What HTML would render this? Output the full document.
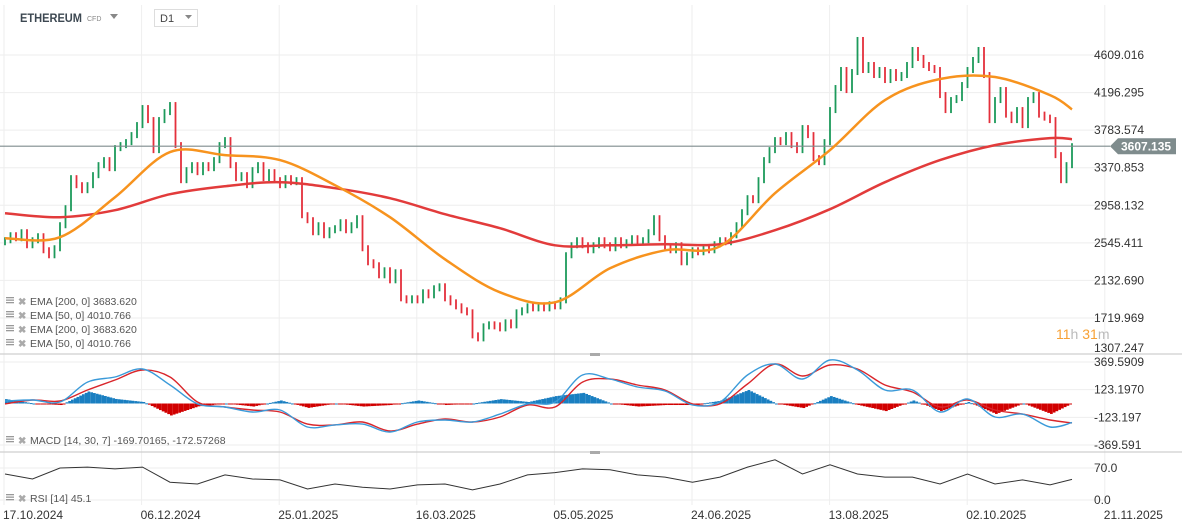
<!DOCTYPE html>
<html><head><meta charset="utf-8">
<style>
html,body{margin:0;padding:0;background:#fff;}
svg{display:block;font-family:"Liberation Sans",sans-serif;}
</style></head>
<body>
<svg id="chart" width="1182" height="531" viewBox="0 0 1182 531" xmlns="http://www.w3.org/2000/svg">
  <rect x="0" y="0" width="1182" height="531" fill="#fff"/>
  <g id="grid"></g>
  <g>
    <text x="20" y="22" font-size="12" font-weight="bold" fill="#3d4852" textLength="62" lengthAdjust="spacingAndGlyphs">ETHEREUM</text>
    <text x="87" y="21" font-size="7" fill="#888">CFD</text>
    <path d="M110 14 L118 14 L114 19 Z" fill="#888"/>
    <rect x="154.5" y="9.5" width="43" height="17" fill="#fff" stroke="#ddd"/>
    <text x="160" y="22" font-size="11" fill="#444">D1</text>
    <path d="M185 15 L192 15 L188.5 19 Z" fill="#888"/>
  </g>
  <g id="price"></g>
  <g id="macd"></g>
  <g id="rsi"></g>
  <g id="axes"></g>
</svg>
<script>
const closes = [2574,2629,2596,2662,2519,2574,2618,2464,2409,2486,
2739,2926,3256,3179,3124,3179,3289,3399,3454,3366,
3586,3619,3652,3729,3839,4026,3894,3564,3894,3982,
4059,3619,3234,3344,3399,3322,3399,3366,3454,3619,
3674,3399,3256,3289,3179,3344,3399,3256,3322,3234,
3179,3256,3212,3234,2849,2794,2662,2739,2629,2684,
2706,2772,2684,2739,2816,2486,2332,2299,2189,2244,
2134,2222,1936,1914,1936,1914,2002,1969,2046,2068,
1936,1892,1848,1804,1782,1529,1496,1628,1650,1639,
1606,1672,1639,1782,1804,1848,1826,1859,1826,1870,
1848,1914,2409,2519,2574,2519,2464,2519,2574,2519,
2486,2574,2519,2552,2596,2552,2574,2662,2816,2596,
2486,2464,2519,2332,2409,2464,2442,2486,2464,2530,
2574,2552,2629,2739,2882,3036,3014,3234,3454,3564,
3674,3652,3729,3619,3564,3806,3729,3476,3432,3652,
4004,4246,4444,4224,4422,4774,4444,4499,4389,4444,
4334,4422,4356,4389,4499,4664,4576,4499,4466,4444,
4169,4004,4114,4136,4279,4444,4554,4664,4389,3894,
4114,4224,3954,3894,4004,3839,4114,4169,3954,3921,
3894,3509,3234,3399,3607];
const emaIdx = [0,10,20,30,40,50,60,70,80,90,100,110,120,130,140,150,160,170,180,190,194];
const ema50 = [2596,2607,3047,3542,3509,3454,3179,2827,2365,2002,1892,2266,2464,2508,3091,3564,4114,4345,4367,4169,4011];
const ema200 = [2871,2827,2904,3080,3168,3212,3146,3036,2860,2706,2519,2519,2530,2530,2684,2915,3212,3454,3619,3696,3684];
const oscIdx = [0,5,10,15,20,25,30,35,40,45,50,55,60,65,70,75,80,85,90,95,100,105,110,115,120,125,130,135,140,145,150,155,160,165,170,175,180,185,190,194];
const macdLine = [22,31,13,191,236,307,165,-4,-31,-76,-58,-209,-191,-183,-254,-165,-147,-165,-94,-4,13,254,218,147,111,-13,13,254,352,218,387,298,120,120,-76,40,-120,-94,-209,-170];
const signalLine = [-4,31,22,120,209,298,236,13,-31,-58,-76,-183,-191,-165,-245,-183,-138,-165,-120,-13,-31,191,218,165,120,-4,-4,174,352,245,343,307,165,102,-31,31,-58,-94,-147,-173];
const rsiValues = [57,46,70,72,68,72,39,35,55,46,44,24,35,28,24,33,35,22,35,55,60,68,66,55,50,39,50,72,88,57,77,57,50,50,35,57,35,44,33,45];
const priceTicks = [4609.016,4196.295,3783.574,3370.853,2958.132,2545.411,2132.690,1719.969,1307.247];
const macdTicks = ["369.5909","123.1970","-123.197","-369.591"];
const macdTickVals = [369.5909,123.197,-123.197,-369.591];
const rsiTicks = [70,0];
const dateLabels = ["17.10.2024","06.12.2024","25.01.2025","16.03.2025","05.05.2025","24.06.2025","13.08.2025","02.10.2025","21.11.2025"];
const lastPrice = 3607.135;

const NS = "http://www.w3.org/2000/svg";
function mk(tag, attrs, parent){const e=document.createElementNS(NS,tag);for(const k in attrs)e.setAttribute(k,attrs[k]);parent.appendChild(e);return e;}
function xI(i){return 5+5.5*i;}
function yP(v){return 55+(4609.016-v)/412.721*37.57;}
function yM(v){return 403.5-v*0.1123;}
function yR(v){return 500-v*0.457;}
function smooth(pts){let d="M"+pts[0][0].toFixed(1)+" "+pts[0][1].toFixed(1);
 for(let i=0;i<pts.length-1;i++){const p0=pts[Math.max(0,i-1)],p1=pts[i],p2=pts[i+1],p3=pts[Math.min(pts.length-1,i+2)];
  const c1x=p1[0]+(p2[0]-p0[0])/6,c1y=p1[1]+(p2[1]-p0[1])/6,c2x=p2[0]-(p3[0]-p1[0])/6,c2y=p2[1]-(p3[1]-p1[1])/6;
  d+=" C"+c1x.toFixed(1)+" "+c1y.toFixed(1)+" "+c2x.toFixed(1)+" "+c2y.toFixed(1)+" "+p2[0].toFixed(1)+" "+p2[1].toFixed(1);}
 return d;}
function poly(pts){return "M"+pts.map(p=>p[0].toFixed(1)+" "+p[1].toFixed(1)).join(" L");}

const grid=document.getElementById("grid");
const axes=document.getElementById("axes");
const price=document.getElementById("price");
const macd=document.getElementById("macd");
const rsi=document.getElementById("rsi");

dateLabels.forEach((d,k)=>{const x=4+137.6*k;
 const l=mk("line",{x1:x,x2:x,y1:5,y2:505,stroke:"#eeeeee","stroke-width":1},grid);
 
 
 const t=mk("text",{x:x-1,y:519,"font-size":12,fill:"#333"},axes);t.textContent=d;
 
 
});
priceTicks.forEach(v=>{const y=yP(v);
 if(y<352){const l=mk("line",{x1:0,x2:1105,y1:y,y2:y,stroke:"#eeeeee","stroke-width":1},grid);
 
 }
 const t=mk("text",{x:1094,y:Math.min(y,348)+4,"font-size":12,fill:"#333"},axes);t.textContent=v.toFixed(3);
 
 
});
macdTickVals.forEach((v,k)=>{const y=yM(v);
 const l=mk("line",{x1:0,x2:1105,y1:y,y2:y,stroke:"#eeeeee","stroke-width":1},grid);
 
 
 const t=mk("text",{x:1094,y:y+4,"font-size":12,fill:"#333"},axes);t.textContent=macdTicks[k];
 
 
});
rsiTicks.forEach(v=>{const y=yR(v);
 const l=mk("line",{x1:0,x2:1105,y1:y,y2:y,stroke:"#eeeeee","stroke-width":1},grid);
 
 
 const t=mk("text",{x:1094,y:y+4,"font-size":12,fill:"#333"},axes);t.textContent=v.toFixed(1);
 
 
});
[354,452].forEach(y=>{const l=mk("line",{x1:0,x2:1182,y1:y,y2:y,stroke:"#cfcfcf","stroke-width":1.2},axes);
 
 
 const h=mk("rect",{x:590,y:y-1,width:10,height:3,fill:"#aaa"},axes);
 
 
});

closes.forEach((c,i)=>{const o=i>0?closes[i-1]:c;
 const up=c>=o;const x=xI(i);
 const y1=yP(Math.max(o,c)),y2=yP(Math.min(o,c));
 const r=mk("rect",{x:x-0.9,y:y1-3,width:1.8,height:Math.max(2,y2-y1)+6,fill:up?"#1d9a5b":"#e4303c"},price);
 
 
});
const lpY=yP(lastPrice);
const lpl=mk("line",{x1:0,x2:1110,y1:lpY,y2:lpY,stroke:"#7f8c8d","stroke-width":1.2},price);


const e200=mk("path",{d:smooth(emaIdx.map((i,k)=>[xI(i),yP(ema200[k])])),fill:"none",stroke:"#e23b3b","stroke-width":2.5},price);


const e50=mk("path",{d:smooth(emaIdx.map((i,k)=>[xI(i),yP(ema50[k])])),fill:"none",stroke:"#f7931e","stroke-width":2.5},price);


const tag=mk("path",{d:`M1110 ${lpY} L1118 ${lpY-8} L1176 ${lpY-8} L1176 ${lpY+8} L1118 ${lpY+8} Z`,fill:"#7f8c8d"},axes);


const tagT=mk("text",{x:1121,y:lpY+4.5,"font-size":12,"font-weight":"bold",fill:"#fff"},axes);tagT.textContent=lastPrice.toFixed(3);



const zero=yM(0);
const histPts=oscIdx.map((i,k)=>[xI(i),(macdLine[k]-signalLine[k])*1.5]);
for(let k=0;k<histPts.length-1;k++){
 const a=histPts[k],b=histPts[k+1];
 for(let x=a[0];x<b[0];x+=2.75){const t=(x-a[0])/(b[0]-a[0]);const v=a[1]+(b[1]-a[1])*t;
  const y=yM(v);const h=mk("rect",{x:x,y:Math.min(y,zero),width:2.75,height:Math.max(1,Math.abs(y-zero)),fill:v>=0?"#1a7fc1":"#d10000"},macd);
  
  }
}
const sig=mk("path",{d:smooth(oscIdx.map((i,k)=>[xI(i),yM(signalLine[k])])),fill:"none",stroke:"#d9262b","stroke-width":1.4},macd);


const ml=mk("path",{d:smooth(oscIdx.map((i,k)=>[xI(i),yM(macdLine[k])])),fill:"none",stroke:"#3a9ad9","stroke-width":1.4},macd);


const rl=mk("path",{d:poly(oscIdx.map((i,k)=>[xI(i),yR(rsiValues[k])])),fill:"none",stroke:"#333","stroke-width":1},rsi);



function legend(y,txt,name){
 const g=mk("g",{},axes);
 
 
 for(let j=0;j<3;j++){mk("rect",{x:6,y:y-7+j*2.5,width:8,height:1.3,fill:"#999"},g);}
 const ic=mk("text",{x:18,y:y+1,"font-size":10,fill:"#aaa","font-weight":"bold"},g);ic.textContent="✖";
 
 
 const t=mk("text",{x:30,y:y+1,"font-size":10.5,fill:"#555"},g);t.textContent=txt;
}
legend(304,"EMA [200,  0] 3683.620","legend-ema-200");
legend(318,"EMA [50,  0] 4010.766","legend-ema-50");
legend(332,"EMA [200,  0] 3683.620","legend-ema-200-b");
legend(346,"EMA [50,  0] 4010.766","legend-ema-50-b");
legend(443,"MACD  [14,  30,  7] -169.70165,  -172.57268","legend-macd");
legend(501,"RSI  [14]  45.1","legend-rsi");
const cd=mk("text",{x:1056,y:339,"font-size":14,fill:"#f7a135"},axes);
cd.innerHTML='11<tspan fill="#bbb">h</tspan> 31<tspan fill="#bbb">m</tspan>';


</script>
</body></html>
